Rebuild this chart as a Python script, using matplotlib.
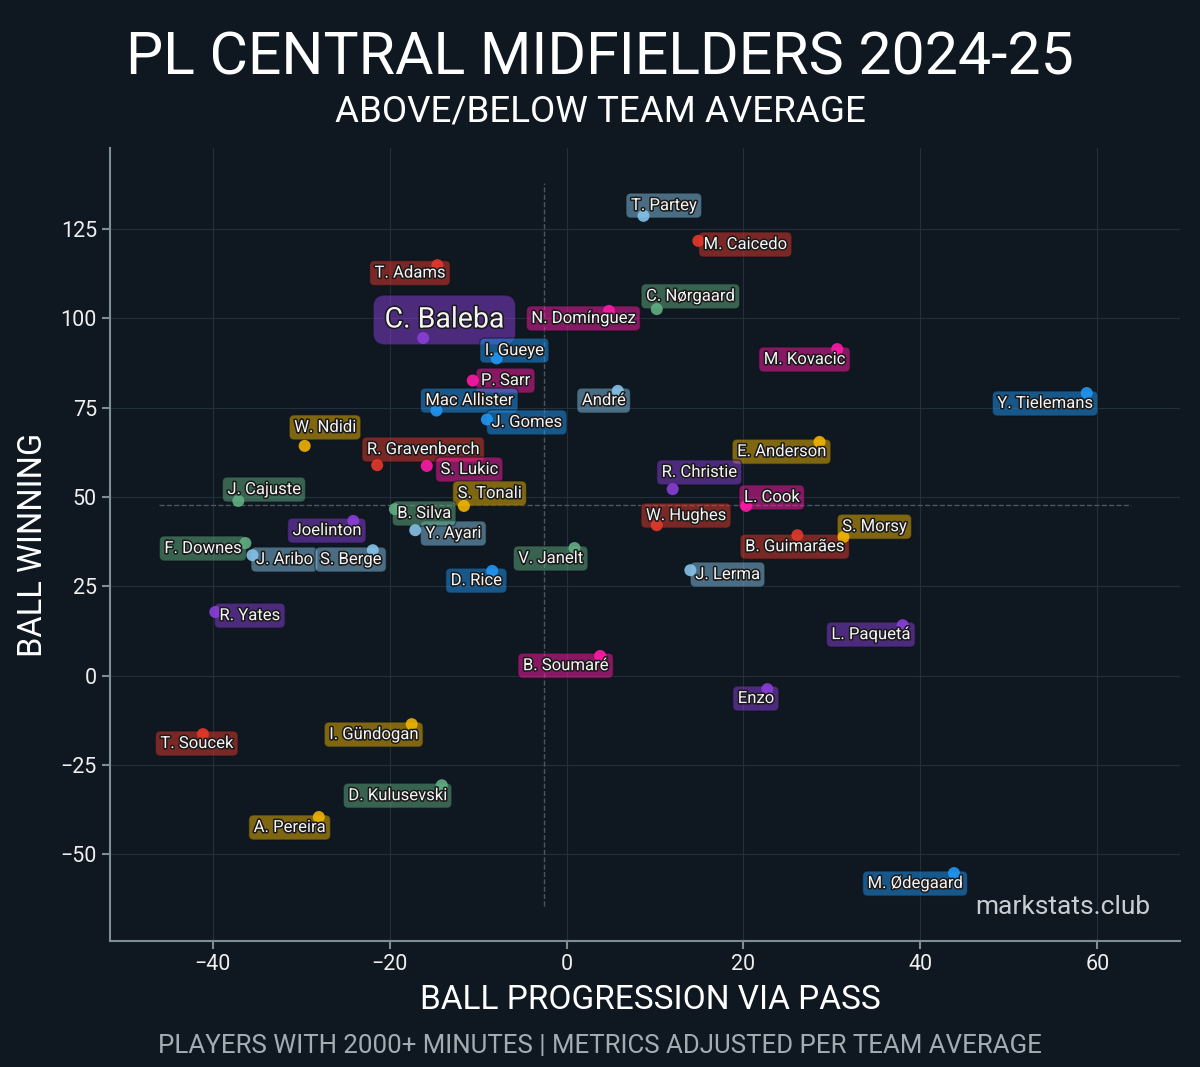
import matplotlib.pyplot as plt
import matplotlib.patheffects as pe
import numpy as np

plt.rcParams['font.family'] = ['Roboto', 'DejaVu Sans']

BG = '#0f1821'

players = [
    'T. Partey', 'M. Caicedo', 'T. Adams', 'C. Baleba', 'N. Domínguez', 'C. Nørgaard',
    'I. Gueye', 'P. Sarr', 'Mac Allister', 'J. Gomes', 'André', 'M. Kovacic',
    'Y. Tielemans', 'W. Ndidi', 'R. Gravenberch', 'S. Lukic', 'S. Tonali', 'E. Anderson',
    'R. Christie', 'L. Cook', 'W. Hughes', 'B. Guimarães', 'S. Morsy', 'J. Lerma',
    'L. Paquetá', 'Enzo', 'B. Soumaré', 'V. Janelt', 'D. Rice', 'Y. Ayari',
    'B. Silva', 'J. Cajuste', 'Joelinton', 'F. Downes', 'J. Aribo', 'S. Berge',
    'R. Yates', 'T. Soucek', 'I. Gündogan', 'D. Kulusevski', 'A. Pereira', 'M. Ødegaard',
]
ball_progression = [
    8.7, 14.9, -14.6, -16.2, 4.8, 10.2,
    -7.9, -10.6, -14.7, -9.0, 5.8, 30.6,
    58.8, -29.6, -21.4, -15.8, -11.6, 28.6,
    12.0, 20.3, 10.2, 26.1, 31.3, 14.0,
    38.0, 22.7, 3.8, 0.9, -8.4, -17.1,
    -19.4, -37.1, -24.1, -36.3, -35.5, -21.9,
    -39.7, -41.1, -17.5, -14.1, -28.0, 43.8,
]
ball_winning = [
    128.7, 121.7, 114.9, 94.5, 102.1, 102.6,
    88.8, 82.6, 74.2, 71.7, 79.7, 91.4,
    79.1, 64.3, 58.9, 58.7, 47.5, 65.4,
    52.2, 47.5, 42.1, 39.3, 38.8, 29.5,
    14.1, -3.8, 5.5, 35.7, 29.3, 40.7,
    46.6, 48.9, 43.3, 37.1, 33.7, 35.1,
    17.8, -16.4, -13.6, -30.7, -39.6, -55.3,
]
cluster = [
    'steel', 'red', 'red', 'purple', 'magenta', 'green',
    'blue', 'magenta', 'blue', 'blue', 'steel', 'magenta',
    'blue', 'gold', 'red', 'magenta', 'gold', 'gold',
    'purple', 'magenta', 'red', 'red', 'gold', 'steel',
    'purple', 'purple', 'magenta', 'green', 'blue', 'steel',
    'green', 'green', 'purple', 'green', 'steel', 'steel',
    'purple', 'red', 'gold', 'green', 'gold', 'blue',
]
highlight = 'C. Baleba'

# label placement (layout, after de-overlapping)
label_pos = [
    (11.0, 132.0), (20.2, 121.1), (-17.7, 113.1), (-13.8, 100.4), (1.9, 100.4), (14.0, 106.6),
    (-5.9, 91.4), (-6.9, 83.0), (-11.0, 77.4), (-4.5, 71.3), (4.2, 77.4), (26.9, 88.9),
    (54.1, 76.6), (-27.3, 69.9), (-16.2, 63.7), (-11.0, 58.1), (-8.7, 51.4), (24.3, 63.1),
    (15.0, 57.3), (23.2, 50.3), (13.5, 45.2), (25.8, 36.5), (34.8, 42.1), (18.2, 28.7),
    (34.4, 11.9), (21.4, -6.0), (-0.1, 3.2), (-1.8, 33.2), (-10.2, 27.0), (-12.8, 40.2),
    (-16.1, 45.8), (-34.2, 52.5), (-27.1, 41.0), (-41.1, 36.0), (-31.9, 32.9), (-24.4, 32.9),
    (-35.8, 17.2), (-41.8, -18.6), (-21.8, -16.1), (-19.1, -33.2), (-31.3, -42.1), (39.4, -57.8),
]

palette = {
    'red': '#e5392b',
    'purple': '#8a3fd8',
    'magenta': '#ff1aa8',
    'green': '#62ae82',
    'blue': '#2196f3',
    'steel': '#86c2e8',
    'gold': '#f0b400',
}

fig = plt.figure(figsize=(12, 10.67), dpi=100, facecolor=BG)
ax = fig.add_axes([0.0917, 0.1181, 0.8913, 0.7432])
ax.set_facecolor(BG)

x = np.array(ball_progression)
y = np.array(ball_winning)
colors = [palette[c] for c in cluster]

# average lines
mx, my = x.mean(), y.mean()
xr = x.max() - x.min()
yr = y.max() - y.min()
ax.plot([mx, mx], [y.min() - 0.05 * yr, y.max() + 0.05 * yr], color='#4b5660', lw=1, ls='--', zorder=1)
ax.plot([x.min() - 0.05 * xr, x.max() + 0.05 * xr], [my, my], color='#4b5660', lw=1, ls='--', zorder=1)

stroke = [pe.withStroke(linewidth=2.2, foreground='#1a1a1a')]
for name, col, (lx, ly) in zip(players, colors, label_pos):
    fs = 20.5 if name == highlight else 12
    pad = 0.4 if name == highlight else 0.3
    # box first, text drawn above the points
    ax.text(lx, ly, name, fontsize=fs, color='none', ha='center', va='center_baseline', zorder=2,
            bbox=dict(boxstyle=f'round,pad={pad}', fc=col, ec='#0a0f14', lw=1, alpha=0.5))
    ax.text(lx, ly, name, fontsize=fs, color='#f4f4f4', ha='center', va='center_baseline', zorder=4,
            path_effects=stroke)

ax.scatter(x, y, s=75, c=colors, alpha=0.9, edgecolors='none', zorder=3)

ax.set_xlim(-51.6, 69.3)
ax.set_ylim(-74.3, 147.7)
ax.set_xticks([-40, -20, 0, 20, 40, 60])
ax.set_yticks([-50, -25, 0, 25, 50, 75, 100, 125])
ax.grid(True, color='#22303b', lw=0.8, zorder=0)
ax.set_axisbelow(True)
for s in ['top', 'right']:
    ax.spines[s].set_visible(False)
for s in ['left', 'bottom']:
    ax.spines[s].set_color('#7f8e96')
    ax.spines[s].set_linewidth(1.5)
ax.tick_params(colors='#7f8e96', labelcolor='#eeeeee', labelsize=15.5, length=6, width=1.5)

ax.text(0.959, 0.150, 'markstats.club', transform=fig.transFigure, ha='right', va='center',
        fontsize=19, color='#c8cdd2', zorder=5)

fig.text(0.5, 1 - 58 / 1067, 'PL CENTRAL MIDFIELDERS 2024-25', ha='center', va='center',
         fontsize=42.5, color='white')
fig.text(0.5, 1 - 112 / 1067, 'ABOVE/BELOW TEAM AVERAGE', ha='center', va='center',
         fontsize=26.5, color='white')
fig.text(0.5417, 1 - 1000 / 1067, 'BALL PROGRESSION VIA PASS', ha='center', va='center',
         fontsize=24, color='white')
fig.text(33 / 1200, 1 - 545 / 1067, 'BALL WINNING', ha='center', va='center',
         fontsize=23.5, color='white', rotation=90)
fig.text(0.5, 1 - 1046 / 1067, 'PLAYERS WITH 2000+ MINUTES | METRICS ADJUSTED PER TEAM AVERAGE',
         ha='center', va='center', fontsize=18.6, color='#a3abb3')

fig.savefig('out.png', dpi=100, facecolor=BG)
